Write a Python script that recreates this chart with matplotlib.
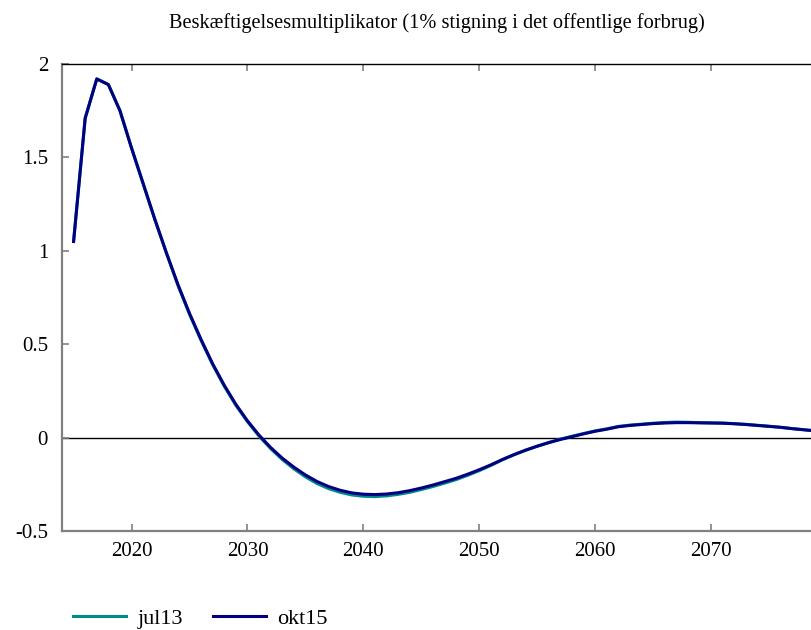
import numpy as np
import matplotlib
matplotlib.use("Agg")
import matplotlib.pyplot as plt

plt.rcParams['font.family'] = ['Liberation Serif', 'DejaVu Serif']

# --- data ---
years = list(range(2015, 2081))

okt15 = [1.05, 1.71, 1.92, 1.89, 1.75, 1.55, 1.36, 1.17, 0.99, 0.82,
         0.665, 0.525, 0.395, 0.28, 0.178, 0.09, 0.013, -0.053, -0.11, -0.158,
         -0.2, -0.235, -0.262, -0.282, -0.296, -0.303, -0.305, -0.302, -0.295, -0.284,
         -0.27, -0.254, -0.236, -0.218, -0.196, -0.172, -0.146, -0.117, -0.091, -0.067,
         -0.046, -0.027, -0.01, 0.005, 0.02, 0.034, 0.045, 0.058, 0.065, 0.07,
         0.075, 0.078, 0.08, 0.08, 0.079, 0.078, 0.077, 0.074, 0.07, 0.065,
         0.06, 0.055, 0.048, 0.042, 0.036, 0.03]

jul13 = [1.05, 1.71, 1.92, 1.89, 1.75, 1.55, 1.36, 1.17, 0.99, 0.815,
         0.66, 0.52, 0.39, 0.275, 0.173, 0.085, 0.008, -0.059, -0.117, -0.167,
         -0.21, -0.246, -0.273, -0.293, -0.307, -0.314, -0.316, -0.312, -0.304, -0.293,
         -0.278, -0.262, -0.244, -0.225, -0.202, -0.177, -0.149, -0.119, -0.092, -0.068,
         -0.046, -0.026, -0.008, 0.007, 0.022, 0.036, 0.047, 0.06, 0.067, 0.072,
         0.077, 0.081, 0.083, 0.082, 0.08, 0.079, 0.078, 0.075, 0.071, 0.066,
         0.061, 0.055, 0.048, 0.042, 0.036, 0.03]

yticks = [-0.5, 0, 0.5, 1, 1.5, 2]
ytick_labels = ['-0.5', '0', '0.5', '1', '1.5', '2']
xticks = [2020, 2030, 2040, 2050, 2060, 2070]

title = 'Beskæftigelsesmultiplikator (1% stigning i det offentlige forbrug)'

# --- figure ---
fig = plt.figure(figsize=(8.12, 6.3), dpi=100)
ax = fig.add_axes([62 / 812, 99 / 630, (827 - 62) / 812, 467 / 630])

ax.plot(years, jul13, color='#008b8b', linewidth=2.2, label='jul13')
ax.plot(years, okt15, color='#000080', linewidth=2.2, label='okt15')
ax.axhline(0, color='black', linewidth=1.0, zorder=1)

ax.set_xlim(2014, 2080)
ax.set_ylim(-0.5, 2)
ax.set_xticks(xticks)
ax.set_yticks(yticks)
ax.set_yticklabels(ytick_labels)

for side in ['left', 'bottom']:
    ax.spines[side].set_color('#808080')
    ax.spines[side].set_linewidth(1.6)
ax.spines['top'].set_color('black')
ax.spines['top'].set_linewidth(1.0)
ax.spines['right'].set_visible(False)

ax.tick_params(axis='x', direction='in', length=5, width=1.2, color='#808080',
               top=True, labelsize=15, pad=8)
ax.tick_params(axis='y', direction='in', length=5, width=1.2, color='#808080',
               labelsize=15, pad=10)

fig.text(437 / 812, 1 - 23 / 630, title, ha='center', va='center', fontsize=14.7)

fig.legend(loc='center left', bbox_to_anchor=(73 / 812, 1 - 619 / 630), ncol=2,
           frameon=False, fontsize=16, handlelength=2.4, handletextpad=0.5,
           columnspacing=1.35, borderaxespad=0, borderpad=0)

fig.savefig('out.png', dpi=100)
